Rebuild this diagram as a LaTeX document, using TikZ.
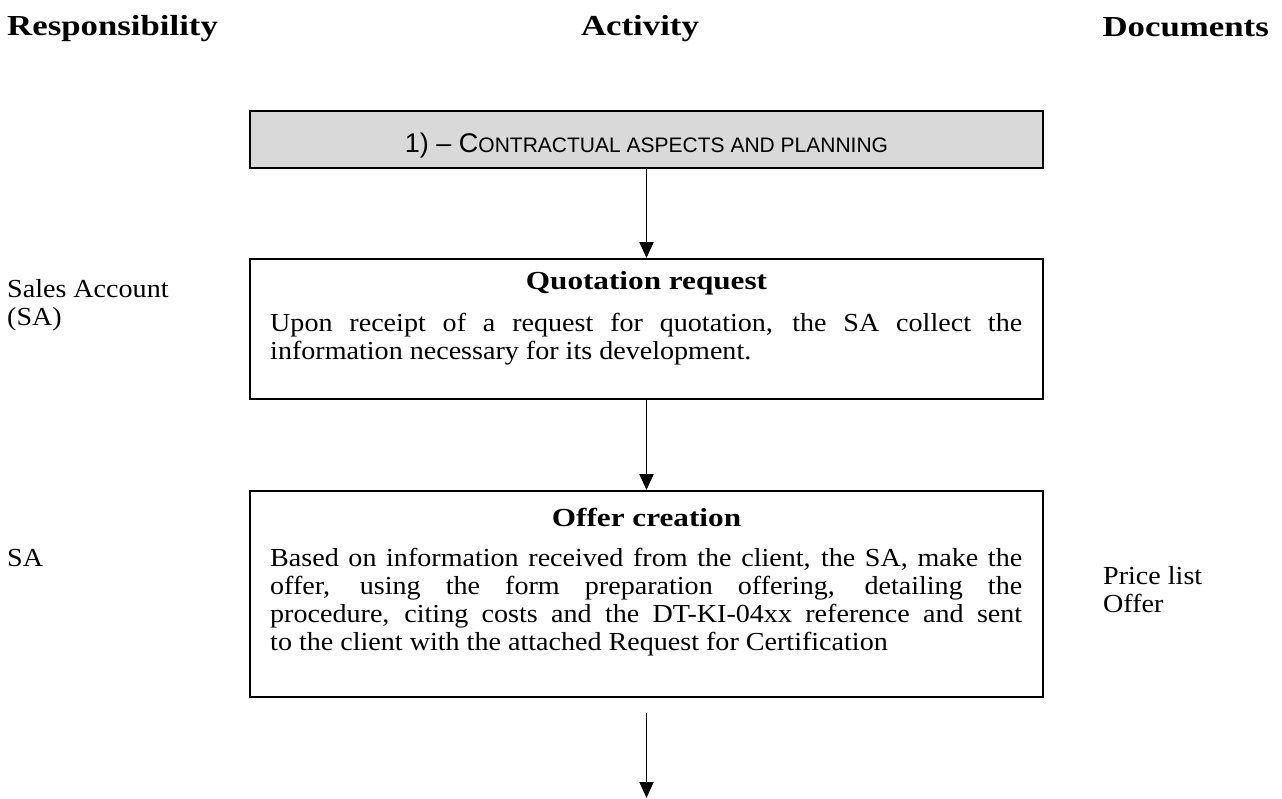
\documentclass[tikz,border=0pt]{standalone}
\usepackage{fontspec}
\setmainfont{Liberation Serif}[FakeStretch=1.08]
\newfontfamily\hdrfont{Liberation Serif}[FakeStretch=1.2]
\newfontfamily\boxsans{Liberation Sans}
\usetikzlibrary{arrows.meta}
\definecolor{hdrgray}{HTML}{D9D9D9}
\begin{document}
\begin{tikzpicture}[x=1pt,y=-1pt,
  box/.style={draw=black, line width=1.9pt, minimum width=793pt, inner sep=0pt},
  arr/.style={line width=1.8pt, -{Triangle[width=14pt,length=16pt]}},
  txt/.style={inner sep=0pt, font={\fontsize{26}{28}\selectfont}},
  colhead/.style={inner sep=0pt, font={\hdrfont\bfseries\fontsize{29}{30}\selectfont}},
  ttl/.style={inner sep=0pt, font={\hdrfont\bfseries\fontsize{26}{28}\selectfont}},
  phasetxt/.style={inner sep=0pt, font={\boxsans\fontsize{27}{28}\selectfont}}
]
\useasboundingbox (0,0) rectangle (1282,798);

% column headings
\node[colhead, anchor=base west] (hresp) at (7,35) {Responsibility};
\node[colhead, anchor=base] (hact) at (640,35) {Activity};
\node[colhead, anchor=base east] (hdoc) at (1269,36) {Documents};

% phase box
\node[box, fill=hdrgray, minimum height=57pt] (phase) at (646.5,139.5) {};
\node[phasetxt, anchor=base] (phaset) at (646.5,152) {1) – C{\fontsize{21}{28}\selectfont ONTRACTUAL ASPECTS AND PLANNING}};

% quotation request
\node[box, minimum height=140pt] (quot) at (646.5,329) {};
\node[ttl, anchor=base] (quott) at (646.5,289) {Quotation request};
\node[txt, anchor=base west] (quotb) at (270,331) {\parbox[t]{752pt}{\makebox[752pt][s]{Upon receipt of a request for quotation, the SA collect the}\\information necessary for its development.}};

% offer creation
\node[box, minimum height=206pt] (offer) at (646.5,594) {};
\node[ttl, anchor=base] (offert) at (646.5,526) {Offer creation};
\node[txt, anchor=base west] (offerb) at (270,566) {\parbox[t]{752pt}{\makebox[752pt][s]{Based on information received from the client, the SA, make the}\\\makebox[752pt][s]{offer, using the form preparation offering, detailing the}\\\makebox[752pt][s]{procedure, citing costs and the DT-KI-04xx reference and sent}\\to the client with the attached Request for Certification}};

% responsibilities
\node[txt, anchor=base west] (rquot) at (7,297) {\parbox[t]{220pt}{Sales Account\\(SA)}};
\node[txt, anchor=base west] (roffer) at (7,566) {SA};

% documents
\node[txt, anchor=base west] (doffer) at (1103,584) {\parbox[t]{170pt}{Price list\\Offer}};

% connectors
\coordinate (endp) at (646.5,798);
\draw[arr] (phase.south) -- (quot.north);
\draw[arr] (quot.south) -- (offer.north);
\draw[arr] ([yshift=-15pt]offer.south) -- (endp);
\end{tikzpicture}
\end{document}
